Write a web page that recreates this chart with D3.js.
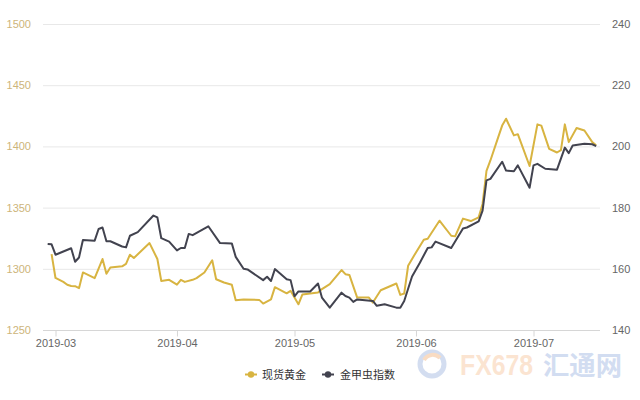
<!DOCTYPE html>
<html><head><meta charset="utf-8">
<script src="https://cdn.jsdelivr.net/npm/d3@7"></script>
<style>
html,body{margin:0;padding:0;background:#fff;}
svg{display:block;font-family:"Liberation Sans",Arial,sans-serif;}
</style></head>
<body><svg id="chart" width="640" height="400"></svg>
<script>
const goldDates = ["2019-02-28","2019-03-01","2019-03-03","2019-03-04","2019-03-05","2019-03-06","2019-03-07","2019-03-08","2019-03-11","2019-03-13","2019-03-14","2019-03-15","2019-03-18","2019-03-19","2019-03-20","2019-03-21","2019-03-25","2019-03-27","2019-03-28","2019-03-30","2019-04-01","2019-04-02","2019-04-03","2019-04-05","2019-04-06","2019-04-08","2019-04-10","2019-04-11","2019-04-13","2019-04-15","2019-04-16","2019-04-18","2019-04-22","2019-04-23","2019-04-25","2019-04-26","2019-04-29","2019-04-30","2019-05-02","2019-05-03","2019-05-07","2019-05-08","2019-05-10","2019-05-13","2019-05-14","2019-05-15","2019-05-17","2019-05-20","2019-05-21","2019-05-23","2019-05-27","2019-05-28","2019-05-29","2019-05-30","2019-06-01","2019-06-03","2019-06-04","2019-06-07","2019-06-10","2019-06-11","2019-06-13","2019-06-15","2019-06-17","2019-06-18","2019-06-19","2019-06-20","2019-06-22","2019-06-23","2019-06-24","2019-06-26","2019-06-27","2019-06-30","2019-07-02","2019-07-03","2019-07-05","2019-07-07","2019-07-08","2019-07-09","2019-07-10","2019-07-12","2019-07-14","2019-07-16","2019-07-17"];
const goldValues = [1312,1292.5,1289.3,1287,1286,1285.8,1284.2,1297,1292.4,1308,1296,1301,1302,1304,1311.5,1308.8,1321,1308,1290,1291,1287,1291,1289.3,1291,1292.4,1297,1307,1291.5,1288.8,1287,1274.3,1275,1274.6,1271.6,1275,1285,1280,1282,1271,1279,1280.6,1283.4,1287.5,1299,1295.6,1295,1276.5,1276.5,1272.4,1282.5,1288,1278.7,1279.8,1302.5,1313.4,1323.8,1324.6,1339.3,1327,1326.5,1341,1339,1342,1353,1380,1388.5,1407.6,1417,1422.6,1409,1410,1384,1418,1417,1398,1395,1397,1418,1403.5,1415,1413,1403.5,1401];

const bugsDates = ["2019-02-27","2019-02-28","2019-03-01","2019-03-05","2019-03-06","2019-03-07","2019-03-08","2019-03-11","2019-03-12","2019-03-13","2019-03-14","2019-03-15","2019-03-18","2019-03-19","2019-03-20","2019-03-22","2019-03-26","2019-03-27","2019-03-28","2019-03-30","2019-04-01","2019-04-02","2019-04-03","2019-04-04","2019-04-05","2019-04-09","2019-04-12","2019-04-15","2019-04-16","2019-04-18","2019-04-19","2019-04-23","2019-04-24","2019-04-25","2019-04-26","2019-04-29","2019-04-30","2019-05-01","2019-05-02","2019-05-05","2019-05-07","2019-05-08","2019-05-10","2019-05-13","2019-05-14","2019-05-15","2019-05-16","2019-05-17","2019-05-21","2019-05-22","2019-05-24","2019-05-27","2019-05-28","2019-05-29","2019-05-31","2019-06-02","2019-06-04","2019-06-05","2019-06-06","2019-06-10","2019-06-13","2019-06-14","2019-06-17","2019-06-18","2019-06-19","2019-06-20","2019-06-23","2019-06-24","2019-06-26","2019-06-27","2019-06-30","2019-07-01","2019-07-02","2019-07-04","2019-07-07","2019-07-09","2019-07-10","2019-07-11","2019-07-14","2019-07-16","2019-07-17"];
const bugsValues = [168.1,168,164.6,166.7,162.3,163.7,169.4,169.2,173,173.5,169,169,167.3,167,170.8,172,177.4,176.8,170,168.9,166,166.8,166.8,171.4,171,173.9,168.4,168.3,163.9,160,159.8,156.3,157.4,156,159.9,156.6,156.3,151,152.6,152.6,155.2,150.6,147.3,152.2,151.1,150.6,149.2,150,149.5,147.9,148.4,147.3,147.3,149.5,157.5,162,166.8,167,168.9,166.8,173.2,173.5,175.5,179,188.9,189.4,195,192.1,191.9,193.8,186.5,193.8,194.3,192.7,192.4,199.6,197.8,200.3,200.9,200.7,200.1];

const leftTicks = [1250,1300,1350,1400,1450,1500];
const rightTicks = [140,160,180,200,220,240];
const monthTicks = ["2019-03-01","2019-04-01","2019-05-01","2019-06-01","2019-07-01"];
const seriesNames = ["现货黄金","金甲虫指数"];

const parse = d3.timeParse("%Y-%m-%d");
const svg = d3.select("#chart");
const L = 43, R = 600, T = 24, B = 330;
const GOLD = "#d8b441", DARK = "#42434f";

const x = d3.scaleTime().domain([parse("2019-03-01"), parse("2019-07-01")]).range([55.5, 533.5]);
const yL = d3.scaleLinear().domain([1250,1500]).range([B,T]);
const yR = d3.scaleLinear().domain([140,240]).range([B,T]);

// grid
svg.append("g").selectAll("line").data(leftTicks.slice(1)).join("line")
  .attr("x1",L).attr("x2",R).attr("y1",d=>yL(d)+0.5).attr("y2",d=>yL(d)+0.5)
  .attr("stroke","#e8e8e8").attr("stroke-width",1);

// left axis labels
const gl = svg.append("g").attr("transform",`translate(${L},0)`)
  .call(d3.axisLeft(yL).tickValues(leftTicks).tickFormat(d3.format("d")).tickSize(0).tickPadding(12));
gl.select(".domain").remove();
gl.selectAll("text").attr("fill","#cdb57a").style("font-size","11px").style("font-family","'Liberation Sans',Arial,sans-serif");

// right axis labels
const gr = svg.append("g").attr("transform",`translate(${R},0)`)
  .call(d3.axisRight(yR).tickValues(rightTicks).tickFormat(d3.format("d")).tickSize(0).tickPadding(12));
gr.select(".domain").remove();
gr.selectAll("text").attr("fill","#666").style("font-size","11px").style("font-family","'Liberation Sans',Arial,sans-serif");

// bottom axis
const gb = svg.append("g").attr("transform",`translate(0,${B+0.5})`)
  .call(d3.axisBottom(x).tickValues(monthTicks.map(parse)).tickFormat(d3.timeFormat("%Y-%m")).tickSize(6).tickPadding(3).tickSizeOuter(0));
gb.select(".domain").attr("d",`M${L},0H${R}`).attr("stroke","#d6d6d6");
gb.selectAll(".tick line").attr("stroke","#d6d6d6");
gb.selectAll("text").attr("fill","#666").style("font-size","11px").style("font-family","'Liberation Sans',Arial,sans-serif");

// lines
const goldData = goldDates.map((d,i)=>({date:parse(d),v:goldValues[i]}));
const bugsData = bugsDates.map((d,i)=>({date:parse(d),v:bugsValues[i]}));
svg.append("path").datum(goldData)
  .attr("d",d3.line().x(d=>x(d.date)).y(d=>yL(d.v)))
  .attr("fill","none").attr("stroke",GOLD).attr("stroke-width",2).attr("stroke-linejoin","round");
svg.append("path").datum(bugsData)
  .attr("d",d3.line().x(d=>x(d.date)).y(d=>yR(d.v)))
  .attr("fill","none").attr("stroke",DARK).attr("stroke-width",2).attr("stroke-linejoin","round");

// legend
const legend = svg.append("g").attr("font-family","'Noto Sans CJK SC',sans-serif");
const items = [{name:seriesNames[0],c:GOLD,x:245,tx:262},{name:seriesNames[1],c:DARK,x:322,tx:340}];
items.forEach(it=>{
  legend.append("line").attr("x1",it.x).attr("x2",it.x+12).attr("y1",374.5).attr("y2",374.5).attr("stroke",it.c).attr("stroke-width",2);
  legend.append("circle").attr("cx",it.x+6).attr("cy",374.5).attr("r",3.2).attr("fill",it.c);
  legend.append("text").attr("x",it.tx).attr("y",378.5).attr("fill","#333").style("font-size","11px").text(it.name);
});

// watermark
const wm = svg.append("g").attr("opacity",0.45);
wm.append("circle").attr("cx",432).attr("cy",364).attr("r",12).attr("fill","none").attr("stroke","#9fb6e0").attr("stroke-width",5);
wm.append("path").attr("d","M424,360 A10,10 0 0 1 440,358").attr("fill","none").attr("stroke","#f3b27c").attr("stroke-width",4);
wm.append("text").attr("x",460).attr("y",375).attr("textLength",73).attr("lengthAdjust","spacingAndGlyphs")
  .attr("fill","#f7c49a").style("font-size","30px").style("font-weight","bold").text("FX678");
wm.append("text").attr("x",543).attr("y",375).attr("textLength",79).attr("lengthAdjust","spacingAndGlyphs")
  .attr("fill","#9db4e2").style("font-size","26px").style("font-weight","bold").style("font-family","'Noto Sans CJK SC',sans-serif").text("汇通网");
</script></body></html>
